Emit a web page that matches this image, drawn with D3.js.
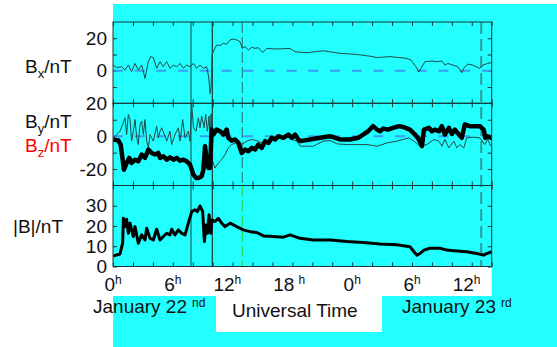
<!DOCTYPE html>
<html>
<head>
<meta charset="utf-8">
<style>
  body { margin: 0; background: #fff; }
  svg text { font-family: "Liberation Sans", Arial, sans-serif; fill: #111; }
  .frame { fill: none; stroke: #173636; stroke-width: 1; }
  .axis path { display: none; }
  .axis line { stroke: #173636; }
  .axis text { font-size: 19px; fill: #111; }
  .thin { fill: none; stroke: #1e4a4a; stroke-width: 1; }
  .thick { fill: none; stroke: #000; stroke-linejoin: round; }
  .zero { stroke: #3a9cf0; stroke-width: 2; stroke-dasharray: 10 11.7; }
</style>
</head>
<body>
<div id="chart"></div>
<script src="https://d3js.org/d3.v7.min.js"></script>
<script>
// hours since 0h January 22, nT
var bx = [[0.03,3.5],[0.37,1.9],[0.87,2.5],[1.2,0.4],[1.54,3.5],[1.87,-0.6],[2.21,4.5],[2.54,0.4],[2.88,3.5],[3.21,-4.7],[3.55,5.6],[3.78,8.7],[4.05,8.1],[4.38,1.5],[4.72,5.6],[5.05,2.5],[5.39,5.6],[5.72,1.5],[6.06,3.5],[6.39,2.5],[6.73,4.5],[7.06,1.5],[7.4,3.5],[7.73,2.5],[8.07,4.5],[8.4,1.5],[8.73,3.5],[9.07,1.5],[9.4,2.5],[9.6,-3.7],[9.74,-14],[9.84,-9.9],[9.94,9.7],[10.07,11.8],[10.4,15.9],[10.74,15.5],[11.08,16.9],[11.41,16.3],[11.75,19],[12.08,19.5],[12.41,19],[12.75,17.9],[12.98,13.8],[13.25,14.8],[13.59,12.8],[13.92,14.4],[14.26,13.8],[14.59,14.2],[15.03,11.2],[15.43,13.8],[16.1,13.4],[16.77,13.5],[17.77,13.7],[18.27,11.7],[19.45,11.1],[21.1,12.3],[22.8,10.7],[24.4,10.1],[26.1,8.7],[26.4,8.1],[27.8,8.7],[29.4,7.7],[29.9,6.6],[30.4,2.5],[30.7,-0.6],[30.9,1.5],[31.3,5.6],[32.0,6.0],[32.5,5.6],[33.0,6.0],[33.3,3.5],[33.6,4.5],[34.1,3.5],[34.6,2.5],[35.0,-1.2],[35.2,1.5],[35.6,4.1],[36.1,3.5],[36.8,1.5],[37.1,3.5],[37.6,4.5],[38,5.1]];

var by = [[0.03,-1],[0.37,1],[0.7,3],[0.97,7.1],[1.2,11.2],[1.37,1],[1.54,13.2],[1.71,10.1],[1.87,-3],[2.04,3],[2.21,10.1],[2.38,-1],[2.54,-5.1],[2.71,7.1],[2.88,9.1],[3.05,1],[3.21,10.1],[3.38,-3],[3.55,-7.1],[3.71,1],[4.05,-3],[4.38,6.1],[4.55,-1],[4.72,3],[4.89,5.1],[5.22,0],[5.39,-3],[5.72,3],[5.89,-5.1],[6.22,1],[6.56,5.1],[6.73,-3],[6.99,10.1],[7.23,-1],[7.56,3],[7.73,-3],[7.9,19.3],[8.07,5.1],[8.33,3],[8.57,11.2],[8.73,5.1],[8.9,12.2],[9.14,5.1],[9.3,13.2],[9.47,3],[9.64,12.2],[9.74,-3],[9.84,13.6],[10.0,-15.3],[10.24,-19.3],[10.57,-16.3],[10.91,-14.3],[11.24,-11.2],[11.58,-7.1],[11.91,-5.1],[12.25,-4.1],[12.58,-3],[12.92,-5.1],[13.42,-3],[13.92,-2],[14.43,-2.7],[14.93,-4.1],[15.43,-3],[16.1,-2],[16.77,-1],[17.43,0],[17.94,-2],[18.44,-3],[18.78,-6.1],[20.1,-6.1],[21.1,-3],[21.8,-2.7],[22.5,-4.7],[23.5,-5.1],[24.5,-5.1],[25.5,-5.1],[26.5,-6.1],[27.5,-4.1],[28.5,-3],[29.1,-2],[29.7,-1],[30.2,-3],[30.8,-6.1],[31.5,-5.1],[32.2,-2],[32.7,-3],[33.0,-6.1],[33.3,-2],[33.7,-7.1],[34.2,-3],[34.5,-7.1],[34.8,-5.1],[35.2,-7.1],[35.5,-1],[36.2,-0.6],[36.8,-1],[37.3,-5.1],[37.6,-2],[37.9,-6.1]];

var bz = [[0.03,-2.05],[0.54,-2.66],[0.77,-5.1],[0.97,-14.3],[1.1,-20.4],[1.37,-16.3],[1.64,-13.2],[1.87,-16.3],[2.21,-14.3],[2.54,-15.3],[2.88,-11.2],[3.21,-13.2],[3.55,-8.15],[3.88,-10.2],[4.22,-11.2],[4.55,-10.2],[4.72,-13.2],[5.05,-12.2],[5.39,-14.3],[5.72,-12.8],[6.06,-14.3],[6.39,-13.2],[6.73,-14.9],[7.06,-14.3],[7.4,-15.3],[7.73,-17.3],[8.07,-23.4],[8.33,-25.4],[8.57,-25.4],[8.9,-24.4],[9.07,-20.4],[9.24,-6.1],[9.4,-15.3],[9.57,-19.3],[9.74,-19.3],[9.9,4.0],[10.07,1.0],[10.4,4.0],[10.74,3.0],[11.08,1.0],[11.41,4.0],[11.58,-1.0],[11.9,-2.7],[12.25,-2.0],[12.58,-4.1],[12.92,-10.2],[13.25,-8.15],[13.59,-9.2],[13.92,-7.1],[14.26,-8.15],[14.59,-5.1],[14.93,-7.1],[15.26,-3.0],[15.6,-4.1],[15.93,-1.0],[16.27,-2.0],[16.6,0.0],[17.1,-1.0],[17.6,1.0],[17.94,-1.0],[18.27,1.0],[18.6,-2.0],[18.78,-3.0],[19.78,-2.0],[20.78,-1.0],[21.78,0.0],[22.78,-2.0],[23.8,-2.0],[24.6,-1.0],[25.1,1.0],[25.6,3.0],[26.1,6.1],[26.5,4.0],[26.8,3.0],[27.1,4.6],[27.6,4.0],[28.1,5.1],[28.7,6.1],[29.1,5.6],[29.8,4.0],[30.3,1.0],[30.7,-2.0],[31.0,-6.1],[31.2,4.0],[31.7,5.1],[32.0,3.0],[32.3,4.0],[32.7,3.0],[33.0,6.1],[33.3,1.0],[33.7,5.1],[34.0,1.4],[34.3,4.0],[34.7,1.0],[35.0,-1.0],[35.3,7.1],[35.8,6.1],[36.3,6.1],[36.8,6.1],[37.2,4.0],[37.35,-1.0],[37.6,0.0],[37.9,-1.0],[38,-0.5]];

var bt = [[0.03,5.2],[0.7,6.2],[0.97,11.5],[1.04,23.8],[1.2,19.7],[1.37,23.3],[1.54,16.4],[1.71,21.4],[1.87,18.1],[2.04,14.8],[2.21,19.7],[2.54,11.5],[2.88,15.6],[3.21,13.1],[3.38,18.9],[3.71,14.0],[4.05,13.1],[4.38,18.4],[4.72,13.1],[5.05,14.8],[5.39,16.4],[5.72,15.6],[5.89,18.4],[6.22,15.6],[6.56,18.1],[6.89,16.4],[7.23,15.6],[7.56,21.4],[7.9,27.1],[8.23,28.0],[8.47,27.1],[8.73,29.9],[9.0,27.1],[9.17,12.3],[9.34,20.5],[9.47,16.4],[9.64,25.5],[9.8,16.4],[9.94,23.0],[10.24,22.2],[10.57,23.8],[10.91,21.4],[11.24,19.7],[11.75,21.4],[12.41,19.7],[13.08,18.1],[13.76,17.2],[14.43,16.8],[15.1,15.1],[16.1,14.8],[17.1,14.5],[17.77,15.6],[18.77,13.9],[20.1,13.1],[21.8,13.1],[23.5,12.3],[25.1,11.8],[26.8,11.1],[28.5,10.7],[29.8,9.8],[30.2,7.3],[30.5,5.6],[30.8,6.4],[31.2,8.1],[31.8,9.0],[32.8,9.0],[33.5,8.1],[34.2,7.8],[35.5,7.3],[36.5,6.4],[37.2,5.6],[37.5,6.4],[38,7.3]];

var timeTicks  = [0, 6, 12, 18, 24, 30, 36];
var timeLabels = ['0', '6', '12', '18', '0', '6', '12'];
var solidMarks = [7.83, 9.96];     // event lines
var dashMarks  = [12.97, 36.95];

var width = 557, height = 347,
    left = 113, right = 491.7;

var x = d3.scaleLinear().domain([0, 38]).range([left, right]);

var panels = [
  {top: 22,    bottom: 103.3, domain: [-20, 30], ticks: [-10, 0, 10, 20], labels: [0, 20]},
  {top: 103.3, bottom: 185.5, domain: [-30, 20], ticks: [-20, -10, 0, 10], labels: [-20, 0, 20]},
  {top: 185.5, bottom: 266.5, domain: [0, 40],   ticks: [0, 10, 20, 30],   labels: [0, 10, 20, 30]}
];
panels.forEach(function (p) {
  p.y = d3.scaleLinear().domain(p.domain).range([p.bottom, p.top]);
});

var svg = d3.select('#chart').append('svg')
  .attr('width', width)
  .attr('height', height);

svg.append('rect').attr('width', width).attr('height', height).attr('fill', '#fff');
svg.append('rect')                                  // cyan backdrop
  .attr('x', left).attr('y', 4)
  .attr('width', width - left).attr('height', height - 4)
  .attr('fill', '#22ffff');
svg.append('rect')                                  // strip under the plot for hour labels
  .attr('x', left).attr('y', 266.5)
  .attr('width', right - left).attr('height', 29.5)
  .attr('fill', '#fff');
svg.append('rect')                                  // Universal Time box
  .attr('x', 216).attr('y', 266.5)
  .attr('width', 166).attr('height', 65.5)
  .attr('fill', '#fff');

svg.append('clipPath').attr('id', 'clip')
  .append('rect')
  .attr('x', left).attr('y', 22)
  .attr('width', right - left).attr('height', 266.5 - 22);

var hours = d3.range(0, 39, 2);

panels.forEach(function (p, i) {
  var g = svg.append('g');

  // inward x ticks on top and bottom
  g.append('g').attr('class', 'axis')
    .attr('transform', 'translate(0,' + p.top + ')')
    .call(d3.axisTop(x).tickValues(hours).tickSize(-4).tickFormat(''));
  g.append('g').attr('class', 'axis')
    .attr('transform', 'translate(0,' + p.bottom + ')')
    .call(d3.axisBottom(x).tickValues(hours).tickSize(-4).tickFormat(''));

  // y ticks, labelled on the left
  var lab = p.ticks.concat(p.labels.filter(function (v) { return p.ticks.indexOf(v) < 0; }));
  g.append('g').attr('class', 'axis')
    .attr('transform', 'translate(' + left + ',0)')
    .call(d3.axisLeft(p.y).tickValues(lab).tickSize(-4).tickPadding(6)
      .tickFormat(function (v) { return p.labels.indexOf(v) >= 0 ? v : ''; }))
    .selectAll('line').attr('x2', function (v) { return p.ticks.indexOf(v) >= 0 ? 4 : 0; });
  g.append('g').attr('class', 'axis')
    .attr('transform', 'translate(' + right + ',0)')
    .call(d3.axisRight(p.y).tickValues(p.ticks).tickSize(-4).tickFormat(''));

  if (i < 2) {
    g.append('line').attr('class', 'zero')
      .attr('x1', left).attr('x2', right)
      .attr('y1', p.y(0)).attr('y2', p.y(0));
  }
});

// event lines
var yTop = panels[0].top, yBottom = panels[2].bottom;
svg.append('line')
  .attr('x1', x(solidMarks[0])).attr('x2', x(solidMarks[0]))
  .attr('y1', yTop).attr('y2', yBottom)
  .attr('stroke', '#17a3a3').attr('stroke-width', 2);
svg.append('line')
  .attr('x1', x(solidMarks[1])).attr('x2', x(solidMarks[1]))
  .attr('y1', yTop).attr('y2', yBottom)
  .attr('stroke', '#111').attr('stroke-width', 1);
svg.append('line')
  .attr('x1', x(dashMarks[0])).attr('x2', x(dashMarks[0]))
  .attr('y1', yTop).attr('y2', panels[1].bottom)
  .attr('stroke', '#236a6a').attr('stroke-width', 1).attr('stroke-dasharray', '11 4');
svg.append('line')
  .attr('x1', x(dashMarks[0])).attr('x2', x(dashMarks[0]))
  .attr('y1', panels[2].top).attr('y2', yBottom)
  .attr('stroke', '#33cc33').attr('stroke-width', 1).attr('stroke-dasharray', '11 4');
svg.append('line')
  .attr('x1', x(dashMarks[1])).attr('x2', x(dashMarks[1]))
  .attr('y1', yTop).attr('y2', yBottom)
  .attr('stroke', '#2e9a9a').attr('stroke-width', 2).attr('stroke-dasharray', '12 5');

// traces
function trace(data, p) {
  return d3.line().x(function (d) { return x(d[0]); }).y(function (d) { return p.y(d[1]); })(data);
}
var plot = svg.append('g').attr('clip-path', 'url(#clip)');
plot.append('path').attr('class', 'thin').attr('d', trace(bx, panels[0]));
plot.append('path').attr('class', 'thin').attr('d', trace(by, panels[1]));
plot.append('path').attr('class', 'thick').attr('stroke-width', 4.5).attr('d', trace(bz, panels[1]));
plot.append('path').attr('class', 'thick').attr('stroke-width', 3).attr('d', trace(bt, panels[2]));

// frames
panels.forEach(function (p) {
  svg.append('rect').attr('class', 'frame')
    .attr('x', left).attr('y', p.top)
    .attr('width', right - left).attr('height', p.bottom - p.top);
});

// hour labels
timeTicks.forEach(function (t, i) {
  var tx = svg.append('text').attr('y', 291).attr('font-size', 19);
  tx.append('tspan').attr('x', x(t) + 2).attr('text-anchor', 'end').text(timeLabels[i]);
  svg.append('text').attr('x', x(t) + 2 + (t === 18 ? 4 : 0)).attr('y', 284)
    .attr('font-size', 12).text('h');
});

// date and axis titles
function dated(xPos, main, sup) {
  var t = svg.append('text').attr('x', xPos).attr('y', 313).attr('font-size', 19);
  t.append('tspan').text(main);
  t.append('tspan').attr('dx', 5).attr('dy', -6).attr('font-size', 12).text(sup);
}
dated(93, 'January 22', 'nd');
dated(402, 'January 23', 'rd');
svg.append('text').attr('x', 232).attr('y', 317).attr('font-size', 19).text('Universal Time');

// panel labels
function comp(y, sub, colour) {
  var t = svg.append('text').attr('x', 25).attr('y', y).attr('font-size', 19).style('fill', colour);
  t.append('tspan').text('B');
  t.append('tspan').attr('dy', 5).attr('font-size', 13).text(sub);
  t.append('tspan').attr('dy', -5).text('/nT');
}
comp(73, 'x', '#111');
comp(128, 'y', '#111');
comp(152, 'z', '#ff0000');
svg.append('text').attr('x', 13).attr('y', 233).attr('font-size', 19).text('|B|/nT');
</script>
</body>
</html>
